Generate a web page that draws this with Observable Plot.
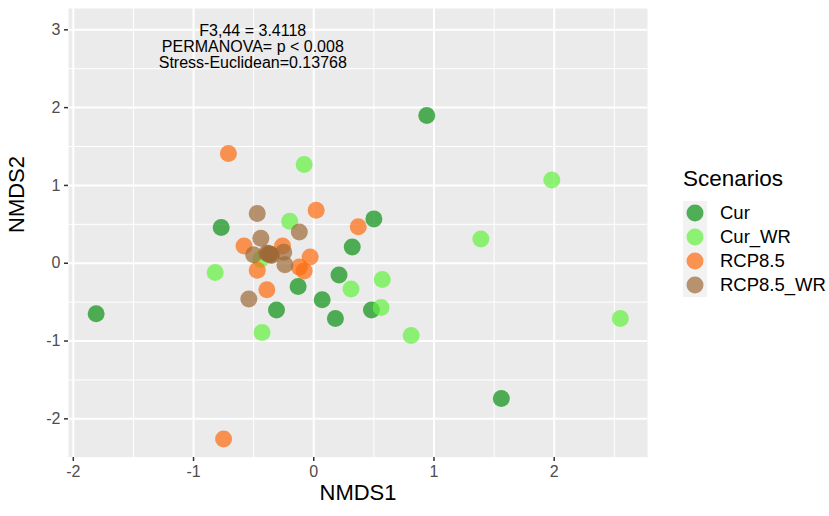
<!DOCTYPE html>
<html>
<head>
<meta charset="utf-8">
<script src="https://cdn.jsdelivr.net/npm/d3@7"></script>
<script src="https://cdn.jsdelivr.net/npm/@observablehq/plot@0.6"></script>
<style>
  html, body { margin: 0; padding: 0; background: #ffffff; }
  #wrap { position: relative; width: 829px; height: 516px; font-family: "Liberation Sans", Arial, sans-serif; }
  #legend { position: absolute; left: 683px; top: 165px; color: #000; }
  #legend .title { font-size: 22.5px; line-height: 28px; margin-bottom: 8px; }
  #legend .item { display: flex; align-items: center; height: 24px; font-size: 18.5px; }
  #legend .key { width: 24px; height: 24px; background: #f2f2f2; margin-right: 13px; }
</style>
</head>
<body>
<div id="wrap"><div id="chart"></div><div id="legend"></div></div>
<script>
// ---- data ----
const groups = ["Cur", "Cur_WR", "RCP8.5", "RCP8.5_WR"];
const groupColors = ["#0A9212", "#63F23F", "#FE6B0D", "#9C6A38"];

const curX = [-0.77, 0.32, -0.13, -0.31, -1.81, 0.07, 0.18, 0.21, 0.94, 0.50, 0.48, 1.56];
const curY = [0.46, 0.21, -0.30, -0.60, -0.65, -0.47, -0.71, -0.15, 1.90, 0.57, -0.60, -1.74];

const curWrX = [-0.08, -0.20, -0.82, -0.43, 0.31, 1.98, 1.39, 0.57, 0.56, 0.81, 2.55, -0.44];
const curWrY = [1.27, 0.54, -0.12, -0.89, -0.33, 1.07, 0.31, -0.21, -0.57, -0.93, -0.71, 0.05];

const rcpX = [-0.71, 0.02, 0.37, -0.58, -0.26, -0.03, -0.12, -0.08, -0.47, -0.39, -0.75, -0.36];
const rcpY = [1.41, 0.68, 0.47, 0.22, 0.22, 0.08, -0.05, -0.10, -0.09, -0.34, -2.26, 0.12];

const rcpWrX = [-0.47, -0.12, -0.44, -0.50, -0.37, -0.35, -0.39, -0.25, -0.24, -0.54, -0.36, -0.38];
const rcpWrY = [0.64, 0.40, 0.32, 0.11, 0.12, 0.10, 0.13, 0.14, -0.02, -0.46, 0.11, 0.12];

const xTicks = [-2, -1, 0, 1, 2];
const yTicks = [-2, -1, 0, 1, 2, 3];
const xMinor = [-1.5, -0.5, 0.5, 1.5, 2.5];
const yMinor = [-2.5, -1.5, -0.5, 0.5, 1.5, 2.5];

const annotation = "F3,44 = 3.4118\nPERMANOVA= p < 0.008\nStress-Euclidean=0.13768";
const annX = -0.507;
const annY = 2.785;

// ---- build table ----
const series = [[curX, curY], [curWrX, curWrY], [rcpX, rcpY], [rcpWrX, rcpWrY]];
const points = [];
series.forEach(([xs, ys], gi) => xs.forEach((x, i) => points.push({x, y: ys[i], group: groups[gi]})));

const font = "Liberation Sans, Arial, sans-serif";
const fmt = d => d < 0 ? "-" + Math.abs(d) : String(d);

const chart = Plot.plot({
  width: 829,
  height: 516,
  marginLeft: 68,
  marginRight: 182,
  marginTop: 8,
  marginBottom: 59,
  style: {fontFamily: font, background: "transparent"},
  x: {domain: [-2.04, 2.776], axis: null},
  y: {domain: [-2.497, 3.274], axis: null},
  color: {domain: groups, range: groupColors},
  marks: [
    Plot.frame({fill: "#EBEBEB", stroke: null}),
    Plot.ruleX(xMinor, {stroke: "#ffffff", strokeWidth: 1}),
    Plot.ruleY(yMinor, {stroke: "#ffffff", strokeWidth: 1}),
    Plot.ruleX(xTicks, {stroke: "#ffffff", strokeWidth: 2}),
    Plot.ruleY(yTicks, {stroke: "#ffffff", strokeWidth: 2}),
    Plot.axisX(xTicks, {tickSize: 4, tickPadding: 4, fontSize: 16, color: "#4D4D4D", stroke: "#333333", strokeWidth: 1.5, label: null, tickFormat: fmt}),
    Plot.axisY(yTicks, {tickSize: 4, tickPadding: 4, fontSize: 16, color: "#4D4D4D", stroke: "#333333", strokeWidth: 1.5, label: null, tickFormat: fmt}),
    Plot.dot(points, {x: "x", y: "y", fill: "group", r: 8.5, fillOpacity: 0.7, stroke: null}),
    Plot.text([annotation], {x: () => annX, y: () => annY, text: d => d, fontSize: 16, lineHeight: 1.0, fill: "#000", textAnchor: "middle"}),
    Plot.text(["NMDS1"], {frameAnchor: "bottom", dy: 42, fontSize: 22, fill: "#000"}),
    Plot.text(["NMDS2"], {frameAnchor: "left", dx: -52, rotate: -90, fontSize: 22, fill: "#000"})
  ]
});
document.getElementById("chart").appendChild(chart);

// ---- legend ----
const color = chart.scale("color");
const legend = document.getElementById("legend");
const title = document.createElement("div");
title.className = "title";
title.textContent = "Scenarios";
legend.appendChild(title);
groups.forEach(g => {
  const item = document.createElement("div");
  item.className = "item";
  item.innerHTML = `<div class="key"><svg width="24" height="24"><circle cx="12" cy="12" r="8.5" fill="${color.apply(g)}" fill-opacity="0.7"></circle></svg></div><span>${g}</span>`;
  legend.appendChild(item);
});
</script>
</body>
</html>
